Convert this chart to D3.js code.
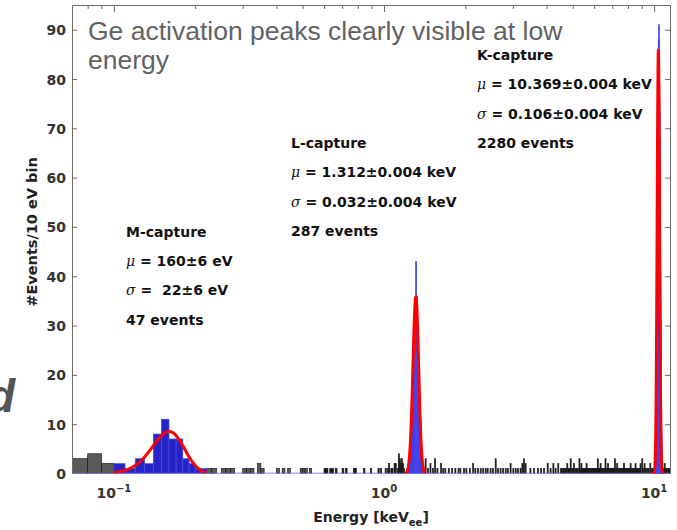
<!DOCTYPE html>
<html><head><meta charset="utf-8">
<script src="https://cdn.jsdelivr.net/npm/d3@7"></script>
<style>
body{margin:0;background:#fff}
svg{display:block}
text{white-space:pre}
</style>
</head><body>
<svg id="c" width="677" height="530"></svg>
<script>
// ---------------- data ----------------
const binWidth = 0.01; // keV (10 eV bins)
// background (non-peak) histogram bins: lower edge [keV] and counts
const bgEnergy = [0.07,0.08,0.09,0.22,0.23,0.25,0.26,0.27,0.30,0.31,0.32,0.34,0.35,0.40,0.42,0.44,0.49,0.50,0.51,0.53,
  0.60,0.61,0.63,0.64,0.66,0.70,0.72,0.77,0.78,0.84,0.89,0.95,0.97,1.01,1.03,1.04,1.06,1.07,1.09,1.10,1.12,1.13,1.14,1.15,1.16,1.17,1.18,
  1.42,1.45,1.48,1.51,1.54,1.57,1.62,1.65,1.68,1.73,1.78,1.83,1.88,1.91,1.97,2.01,2.07,2.13,2.17,2.22,2.27,2.32,2.37,2.41,2.47,2.52,
  2.58,2.63,2.69,2.75,2.81,2.86,2.93,3.00,3.06,3.12,3.19,3.24,3.28,3.33,3.47,3.58,3.70,3.80,3.90,4.02,4.12,4.22,4.30,4.40,4.50,4.55,
  4.60,4.65,4.70,4.75,4.80,4.85,4.89,4.95,5.00,5.03,5.10,5.15,5.20,5.27,5.30,5.36,5.40,5.45,5.50,5.55,5.60,5.65,5.70,5.75,5.80,5.85,
  5.90,5.95,6.00,6.05,6.10,6.16,6.20,6.25,6.31,6.35,6.40,6.45,6.50,6.58,6.62,6.66,6.72,6.78,6.85,6.90,6.95,7.00,7.06,7.13,7.20,7.27,
  7.33,7.40,7.46,7.52,7.58,7.64,7.70,7.76,7.82,7.88,7.95,8.02,8.08,8.15,8.22,8.29,8.36,8.43,8.50,8.57,8.64,8.71,8.78,8.87,9.00,9.08,
  9.18,9.28,9.40,9.50,9.64,9.75,9.85,10.80,10.90,11.00,11.10,11.25,11.35];
const bgCount = [3,4,2,1,1,1,1,1,1,1,1,2,1,1,1,1,1,1,1,1,
  1,1,1,1,1,1,1,1,1,1,1,1,1,1,1,2,1,1,2,2,1,4,3,2,3,2,1,
  3,1,2,1,3,1,2,1,1,1,1,1,1,1,1,1,1,2,1,1,1,1,1,1,1,1,
  3,1,1,1,1,1,2,1,1,1,1,2,3,2,1,1,1,1,1,2,1,2,1,2,1,1,
  1,1,1,2,1,1,3,1,1,2,1,1,1,3,1,2,1,1,1,1,2,1,1,1,1,1,
  1,1,1,1,1,3,1,1,2,1,1,1,1,3,1,1,2,1,1,1,1,1,1,3,1,2,
  1,1,1,1,1,1,2,1,1,1,1,1,1,2,1,1,1,1,2,1,1,1,1,2,3,1,
  2,1,1,1,2,1,1,1,2,1,1,1,1];
// M-capture peak bins (blue)
const mEnergy = [0.10,0.11,0.12,0.13,0.14,0.15,0.16,0.17,0.18,0.19,0.20,0.21];
const mCount  = [2,1,3,2,8,11,7,7,3,2,1,1];
// L-capture peak bins (blue), starting at 1.22 keV
const lStart = 1.22;
const lCount = [1,2,3,5,8,12,18,26,33,43,36,30,22,16,11,6,4,2,1];
// K-capture peak bins (blue), starting at 10.07 keV
const kStart = 10.07;
const kCount = [1,2,1,3,4,5,6,8,9,13,15,18,19,24,27,30,36,40,44,49,55,60,63,69,72,78,80,84,83,88,
  91,85,84,82,79,76,73,68,64,59,54,50,45,41,35,31,28,23,20,17,14,12,9,8,6,5,4,3,2,1,1];
// Gaussian fit results
const fitName   = ["M-capture","L-capture","K-capture"];
const fitMu     = [0.160, 1.312, 10.369];   // keV
const fitSigma  = [0.022, 0.032, 0.106];    // keV
const fitEvents = [47, 287, 2280];
const fitRange  = [[0.10,0.22],[1.19,1.43],[9.80,10.90]];
const fitMuText    = ["160\u00b16 eV","1.312\u00b10.004 keV","10.369\u00b10.004 keV"];
const fitSigmaText = [" 22\u00b16 eV","0.032\u00b10.004 keV","0.106\u00b10.004 keV"];
const fitEventsText = ["47 events","287 events","2280 events"];
// ticks
const yTicks = [0,10,20,30,40,50,60,70,80,90];
const xMajorExp = [-1,0,1];
const xMinor = [0.08,0.09,0.2,0.3,0.4,0.5,0.6,0.7,0.8,0.9,2,3,4,5,6,7,8,9];

// ---------------- layout ----------------
const svg = d3.select("#c");
const L=72, R=670, T=5, B=473.5;
const x = d3.scaleLog().domain([0.07, 11.45]).range([L, R]);
const y = d3.scaleLinear().domain([0, 95]).range([B, T]);
const tickFont = "'DejaVu Sans', sans-serif";

svg.append("rect").attr("x",0).attr("y",0).attr("width",677).attr("height",530).attr("fill","#fff");
svg.append("defs").append("clipPath").attr("id","clip")
  .append("rect").attr("x",L).attr("y",T).attr("width",R-L).attr("height",B-T);

const g = svg.append("g").attr("clip-path","url(#clip)");

function drawBars(sel, energies, counts, fill, narrowFill, stroke){
  sel.selectAll(null).data(energies.map((e,i)=>({e, c:counts[i]}))).join("rect")
    .attr("x", d => x(d.e))
    .attr("width", d => Math.max(x(d.e+binWidth)-x(d.e), 1))
    .attr("y", d => y(d.c))
    .attr("height", d => y(0)-y(d.c))
    .attr("fill", d => (x(d.e+binWidth)-x(d.e)) < 2 ? narrowFill : fill)
    .attr("stroke", stroke).attr("stroke-width", 0.7);
}
drawBars(g.append("g"), bgEnergy, bgCount, "#5a5a5a", "#111", "#1a1a1a");
const blueFill = "#2323c6", blueEdge = "#4a4aee";
drawBars(g.append("g"), mEnergy, mCount, blueFill, blueFill, blueEdge);
drawBars(g.append("g"), lCount.map((c,i)=>+(lStart+i*binWidth).toFixed(2)), lCount, blueFill, "#1e1ee0", blueEdge);
drawBars(g.append("g"), kCount.map((c,i)=>+(kStart+i*binWidth).toFixed(2)), kCount, blueFill, "#3a3af0", blueEdge);

// blue zero line
g.append("line").attr("x1",L).attr("x2",R).attr("y1",y(0)).attr("y2",y(0))
  .attr("stroke","#5a5adf").attr("stroke-width",1.6);

// fit curves
const line = d3.line().x(d=>x(d[0])).y(d=>y(d[1]));
fitMu.forEach((mu,i)=>{
  const s = fitSigma[i], A = fitEvents[i]*binWidth/(s*Math.sqrt(2*Math.PI));
  const [a,b] = fitRange[i];
  const pts = d3.range(0,301).map(k=>{
    const e = a + (b-a)*k/300;
    return [e, A*Math.exp(-0.5*((e-mu)/s)**2)];
  });
  g.append("path").datum(pts).attr("d",line).attr("fill","none")
    .attr("stroke","#ff0000").attr("stroke-width",3).attr("stroke-linejoin","round");
});

// ---------------- axes ----------------
const axisColor = "#6a6a6a";
// left axis
const ax = svg.append("g").attr("transform",`translate(${L},0)`)
  .call(d3.axisLeft(y).tickValues(yTicks).tickSizeInner(-5).tickSizeOuter(0).tickPadding(6));
ax.select(".domain").attr("stroke",axisColor).attr("stroke-width",1);
ax.selectAll(".tick line").attr("stroke",axisColor);
ax.selectAll(".tick").filter(d=>d===0).select("line").remove();
ax.selectAll("text").attr("font-family",tickFont).attr("font-weight","bold")
  .attr("font-size","14px").attr("fill","#333").attr("dy","0.36em");
// right axis
const ar = svg.append("g").attr("transform",`translate(${R},0)`)
  .call(d3.axisRight(y).tickValues(yTicks.filter(v=>v>0)).tickSizeInner(-5).tickSizeOuter(0).tickFormat(""));
ar.select(".domain").attr("stroke",axisColor);
ar.selectAll(".tick line").attr("stroke",axisColor);
// top axis major/minor
const at = svg.append("g").attr("transform",`translate(0,${T})`)
  .call(d3.axisTop(x).tickValues(xMajorExp.map(k=>Math.pow(10,k))).tickSizeInner(-7).tickSizeOuter(0).tickFormat(""));
at.select(".domain").attr("stroke",axisColor);
at.selectAll(".tick line").attr("stroke",axisColor);
const at2 = svg.append("g").attr("transform",`translate(0,${T})`)
  .call(d3.axisTop(x).tickValues(xMinor).tickSizeInner(-4).tickSizeOuter(0).tickFormat(""));
at2.select(".domain").remove();
at2.selectAll(".tick line").attr("stroke",axisColor);

// x tick labels 10^k
xMajorExp.forEach(k=>{
  const t = svg.append("text").attr("x",x(Math.pow(10,k))).attr("y",498)
    .attr("text-anchor","middle").attr("font-family",tickFont).attr("font-weight","bold")
    .attr("font-size","14px").attr("fill","#333");
  t.append("tspan").text("10");
  t.append("tspan").attr("dy",-6).attr("font-size","10px").text(k<0 ? "\u2212"+(-k) : String(k));
});

// axis labels
const xl = svg.append("text").attr("x",(L+R)/2).attr("y",522).attr("text-anchor","middle")
  .attr("font-family",tickFont).attr("font-weight","bold").attr("font-size","14px").attr("fill","#222");
xl.append("tspan").text("Energy [keV");
xl.append("tspan").attr("dy",4).attr("font-size","10px").text("ee");
xl.append("tspan").attr("dy",-4).text("]");

svg.append("text").attr("transform","translate(37,232) rotate(-90)").attr("text-anchor","middle")
  .attr("font-family",tickFont).attr("font-weight","bold").attr("font-size","14.5px").attr("fill","#222")
  .text("#Events/10 eV bin");

// annotations
const annX = [126, 291, 477];
const annY0 = [236.5, 148, 60];
const gap = 29.4;
fitName.forEach((n,i)=>{
  const mk = (row)=> svg.append("text").attr("x",annX[i]).attr("y",annY0[i]+row*gap)
    .attr("font-family",tickFont).attr("font-weight","bold").attr("font-size","14px").attr("fill","#111");
  mk(0).text(n);
  const t1 = mk(1);
  t1.append("tspan").attr("font-family","'DejaVu Serif', serif").attr("font-style","italic").attr("font-weight","normal").text("\u03bc");
  t1.append("tspan").text(" = "+fitMuText[i]);
  const t2 = mk(2);
  t2.append("tspan").attr("font-family","'DejaVu Serif', serif").attr("font-style","italic").attr("font-weight","normal").text("\u03c3");
  t2.append("tspan").text(" = "+fitSigmaText[i]);
  mk(3).text(fitEventsText[i]);
});

// slide overlay title
const title = svg.append("text").attr("font-family","'Liberation Sans', Arial, sans-serif")
  .attr("font-size","26.5px").attr("fill","#626262");
title.append("tspan").attr("x",88).attr("y",40).text("Ge activation peaks clearly visible at low");
title.append("tspan").attr("x",88).attr("y",69).text("energy");

// fragment of slide text at left edge (cut off in the original slide)
svg.append("text").attr("x",-13).attr("y",412)
  .attr("font-family","'Liberation Sans', Arial, sans-serif").attr("font-weight","bold").attr("font-style","italic")
  .attr("font-size","46px").attr("fill","#555").text("d");
</script>
</body></html>
